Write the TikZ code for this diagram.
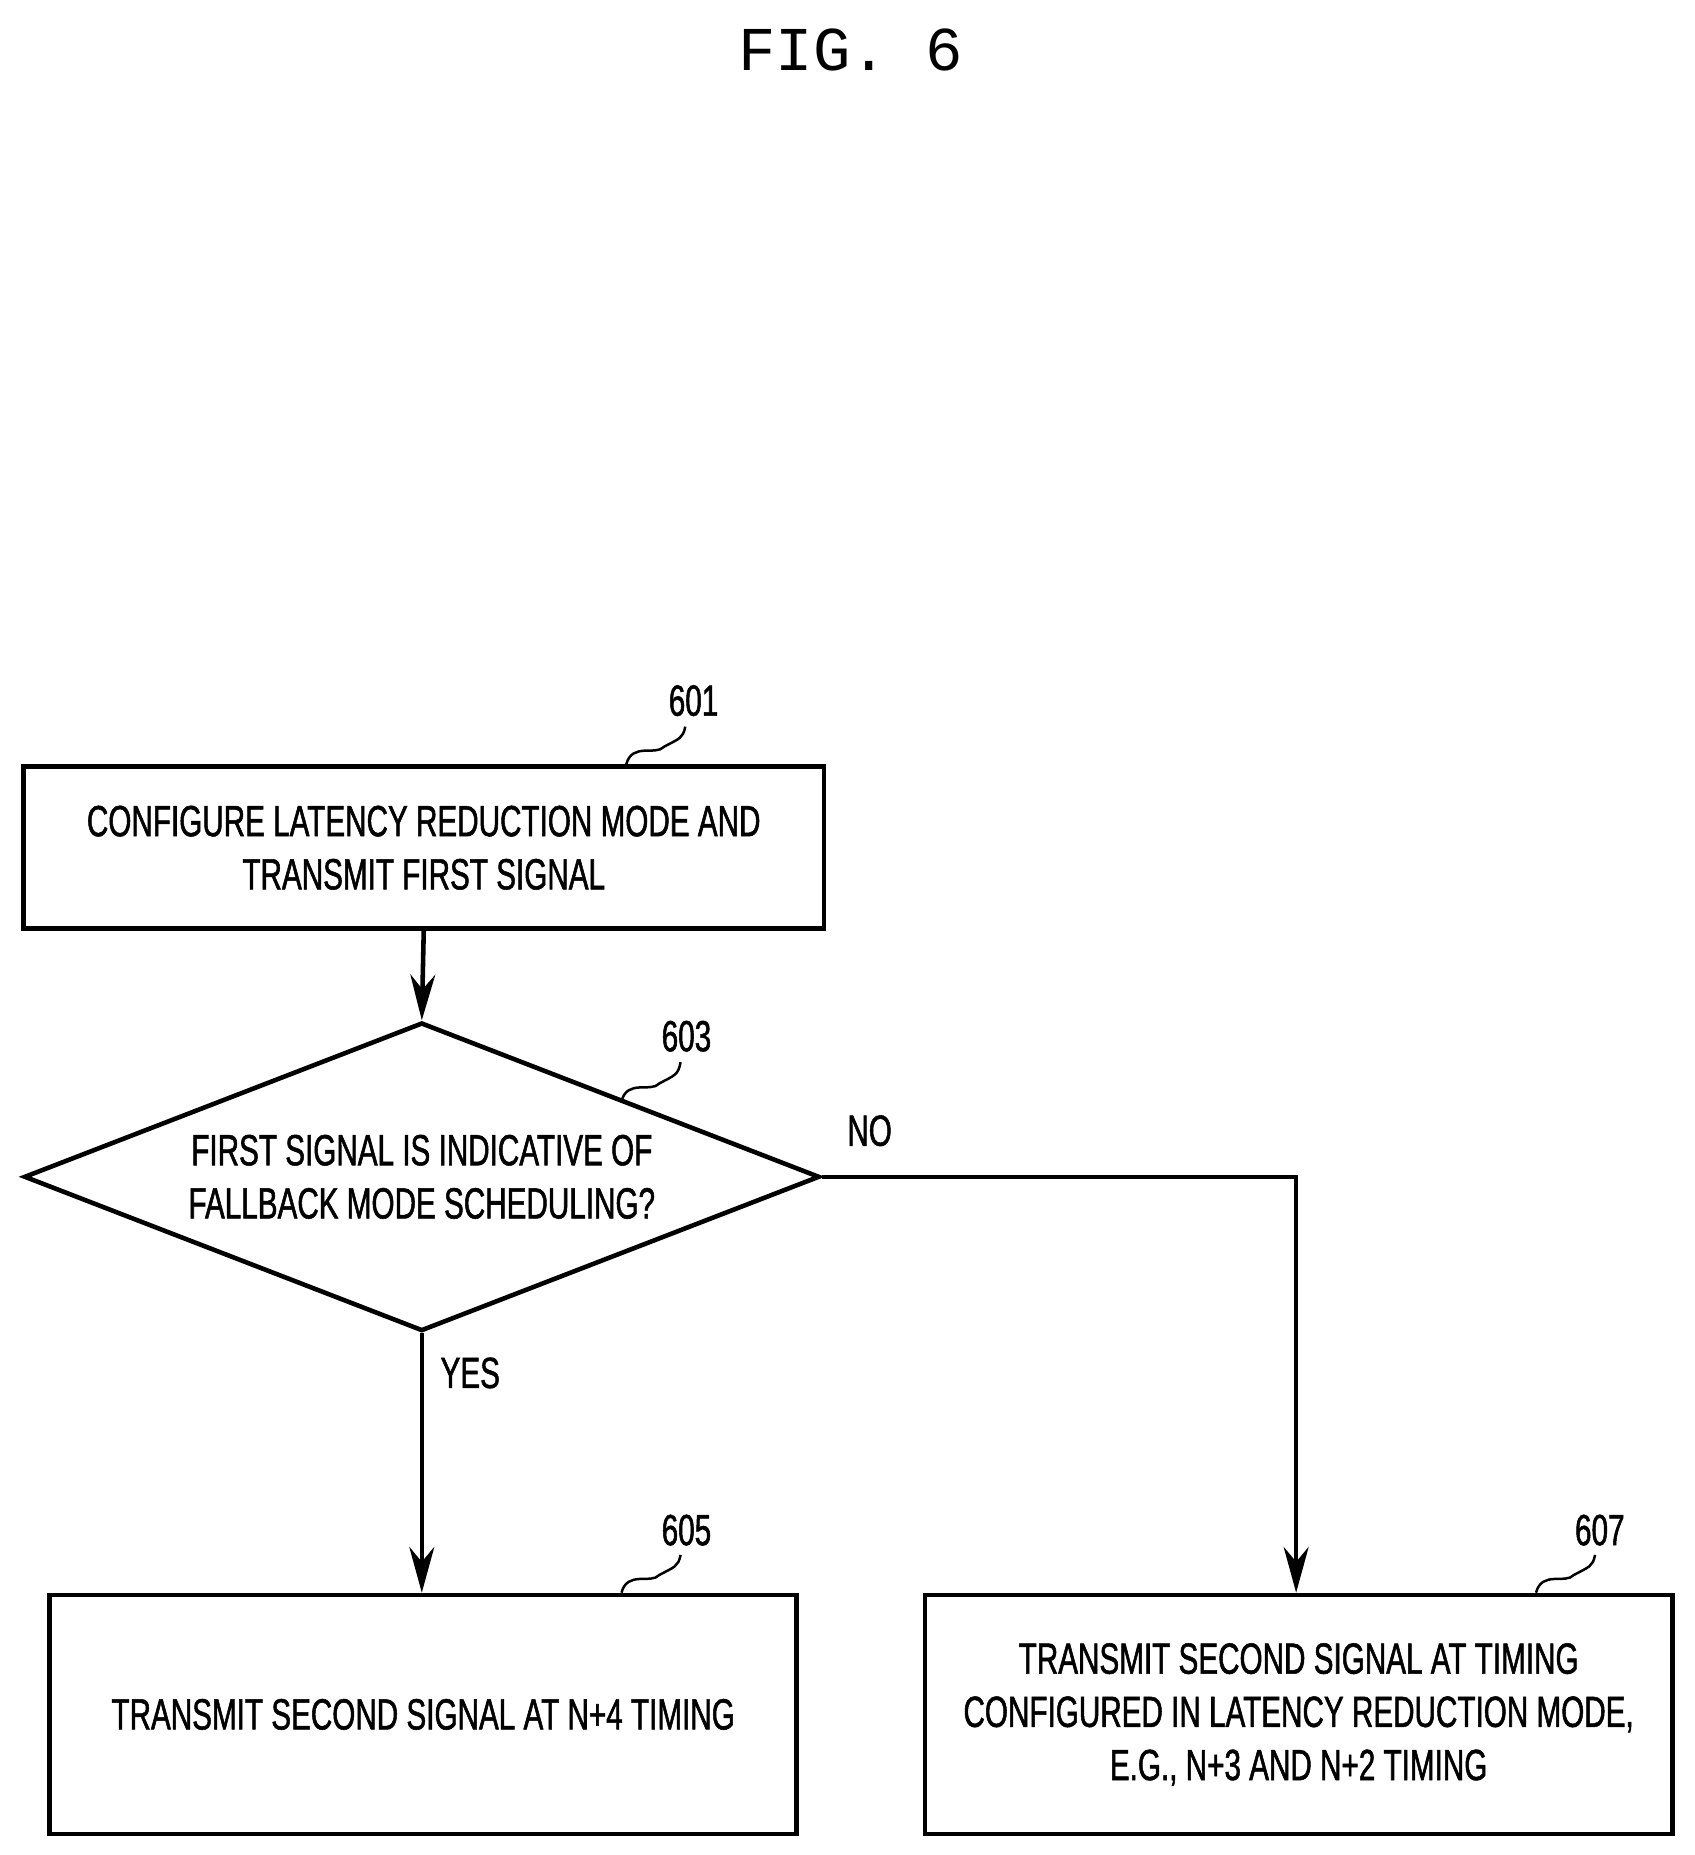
\documentclass[tikz,border=0pt]{standalone}
\usepackage{fontspec}
\setmainfont{Liberation Sans}[FakeStretch=0.68,FakeBold=1.2]
\newfontfamily\figfont{Liberation Mono}
\usetikzlibrary{shapes.geometric,arrows.meta}
\begin{document}
\begin{tikzpicture}[x=0.01cm,y=-0.01cm,line width=1.1pt,
    box/.style={draw,rectangle,align=center,inner sep=0pt,font=\fontsize{10.5}{12.8}\selectfont},
    decision/.style={draw,diamond,aspect=2.58,inner sep=0pt,align=center,font=\fontsize{10.5}{12.8}\selectfont},
    flow/.style={-{Stealth[length=11pt,width=6pt]}},
    lbl/.style={font=\fontsize{10.5}{12}\selectfont}]

    % frame
    \useasboundingbox (0,0) rectangle (1434,1570);

    % title
    \node[font=\figfont\fontsize{15}{17}\selectfont] (title) at (720,42) {FIG. 6};

    % boxes
    \node[box,anchor=north west,minimum width=6.77cm,minimum height=1.37cm] (s601) at (18,647)
        {CONFIGURE LATENCY REDUCTION MODE AND\\TRANSMIT FIRST SIGNAL};
    \node[decision,minimum width=6.73cm,minimum height=2.61cm] (s603) at (357,996)
        {FIRST SIGNAL IS INDICATIVE OF\\FALLBACK MODE SCHEDULING?};
    \node[box,anchor=north west,minimum width=6.32cm,minimum height=2.02cm] (s605) at (40,1348)
        {TRANSMIT SECOND SIGNAL AT N+4 TIMING};
    \node[box,anchor=north west,minimum width=6.32cm,minimum height=2.02cm] (s607) at (781,1348)
        {TRANSMIT SECOND SIGNAL AT TIMING\\CONFIGURED IN LATENCY REDUCTION MODE,\\E.G., N+3 AND N+2 TIMING};

    % connectors
    \draw[flow] (s601.south) -- (s603.north);
    \draw[flow] (s603.south) -- (s605.north -| s603.south);
    \draw[flow] (s603.east) -| (1097,1348);
    \node[lbl] (yes) at (398,1162) {YES};
    \node[lbl] (no) at (736,957) {NO};

    % reference numerals
    \node[lbl] (n601) at (587,593) {601};
    \node[lbl] (n603) at (581,877) {603};
    \node[lbl] (n605) at (581,1295) {605};
    \node[lbl] (n607) at (1354,1295) {607};
    \draw[line width=0.6pt] (530,647) .. controls (535,628) and (555,640) .. (562,632)
        .. controls (575,625) and (578,625) .. (580,615);
    \draw[line width=0.6pt] (526,932) .. controls (531,913) and (551,925) .. (558,917)
        .. controls (571,910) and (574,910) .. (576,899);
    \draw[line width=0.6pt] (526,1348) .. controls (531,1329) and (551,1341) .. (558,1333)
        .. controls (571,1326) and (574,1326) .. (576,1316);
    \draw[line width=0.6pt] (1300,1348) .. controls (1305,1329) and (1325,1341) .. (1332,1333)
        .. controls (1345,1326) and (1348,1326) .. (1350,1316);
\end{tikzpicture}
\end{document}
